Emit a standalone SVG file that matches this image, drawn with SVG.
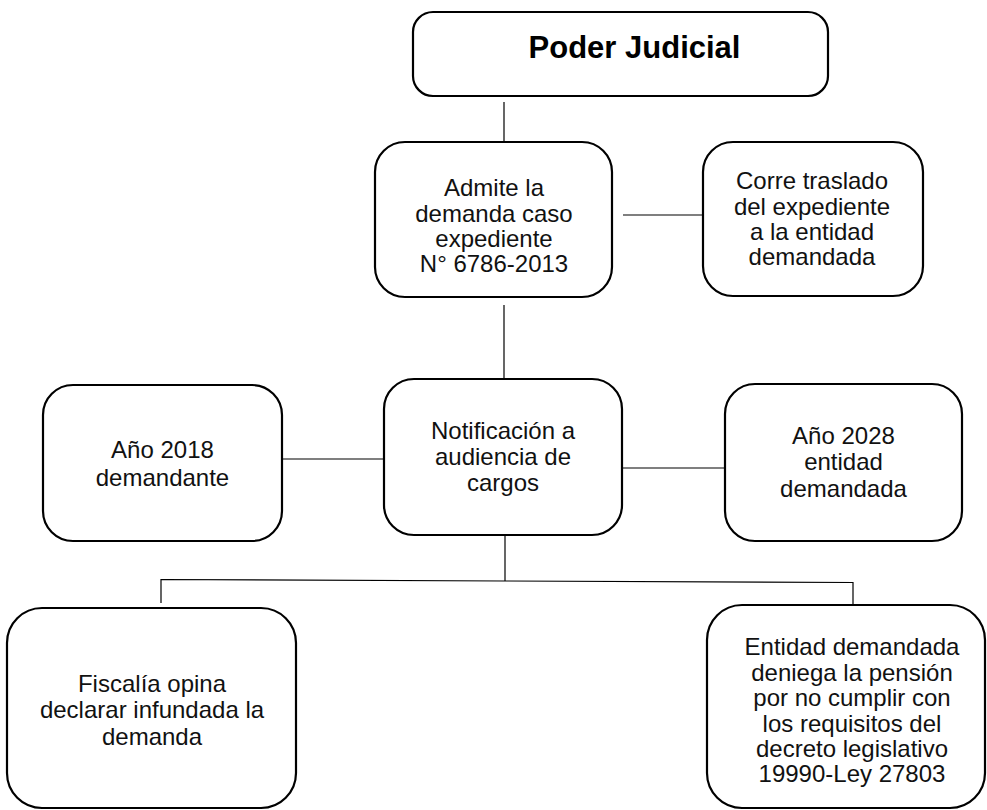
<svg xmlns="http://www.w3.org/2000/svg" width="987" height="810" viewBox="0 0 987 810">
<style>
.box{fill:#fff;stroke:#000;stroke-width:2.2}
.t{font-family:"Liberation Sans",Arial,sans-serif;font-size:24px;fill:#111;text-anchor:middle}
.title{font-family:"Liberation Sans",Arial,sans-serif;font-size:31px;font-weight:bold;fill:#000;text-anchor:middle}
.c{fill:none;stroke:#000;stroke-width:1.2}
</style>
<rect width="987" height="810" fill="#fff"/>
<g id="connectors">
<line class="c" x1="504" y1="102" x2="504" y2="143"/>
<line class="c" x1="623" y1="215" x2="703" y2="215"/>
<line class="c" x1="504" y1="305" x2="504" y2="379"/>
<line class="c" x1="282" y1="459" x2="384" y2="459"/>
<line class="c" x1="622" y1="468" x2="725" y2="468"/>
<line class="c" x1="505" y1="535" x2="505" y2="581"/>
<polyline class="c" points="161,603 161,579.5 505,581 853,582.5 853,605"/>
</g>
<g id="poder-judicial">
<rect class="box" x="413" y="12" width="415" height="84" rx="20"/>
<text class="title" x="634.5" y="58">Poder Judicial</text>
</g>
<g id="admite">
<rect class="box" x="375" y="142" width="237" height="155" rx="30"/>
<text class="t"><tspan x="494" y="196">Admite la</tspan><tspan x="494" y="222">demanda caso</tspan><tspan x="494" y="247">expediente</tspan><tspan x="494" y="272">N° 6786-2013</tspan></text>
</g>
<g id="corre">
<rect class="box" x="703" y="142" width="220" height="154" rx="30"/>
<text class="t"><tspan x="812" y="189">Corre traslado</tspan><tspan x="812" y="214.5">del expediente</tspan><tspan x="812" y="240">a la entidad</tspan><tspan x="812" y="265">demandada</tspan></text>
</g>
<g id="notificacion">
<rect class="box" x="384" y="379" width="238" height="156" rx="30"/>
<text class="t"><tspan x="503" y="439">Notificación a</tspan><tspan x="503" y="465">audiencia de</tspan><tspan x="503" y="491">cargos</tspan></text>
</g>
<g id="anio-2018">
<rect class="box" x="43" y="385" width="239" height="156" rx="30"/>
<text class="t"><tspan x="162.5" y="458">Año 2018</tspan><tspan x="162.5" y="486">demandante</tspan></text>
</g>
<g id="anio-2028">
<rect class="box" x="725" y="384" width="237" height="157" rx="30"/>
<text class="t"><tspan x="843.5" y="444">Año 2028</tspan><tspan x="843.5" y="470">entidad</tspan><tspan x="843.5" y="497">demandada</tspan></text>
</g>
<g id="fiscalia">
<rect class="box" x="7" y="608" width="289" height="200" rx="35"/>
<text class="t"><tspan x="152" y="692">Fiscalía opina</tspan><tspan x="152" y="718">declarar infundada la</tspan><tspan x="152" y="745">demanda</tspan></text>
</g>
<g id="entidad">
<rect class="box" x="707" y="605" width="278" height="203" rx="35"/>
<text class="t"><tspan x="852" y="655">Entidad demandada</tspan><tspan x="852" y="680.5">deniega la pensión</tspan><tspan x="852" y="706">por no cumplir con</tspan><tspan x="852" y="731.5">los requisitos del</tspan><tspan x="852" y="757">decreto legislativo</tspan><tspan x="852" y="782">19990-Ley 27803</tspan></text>
</g>
</svg>
